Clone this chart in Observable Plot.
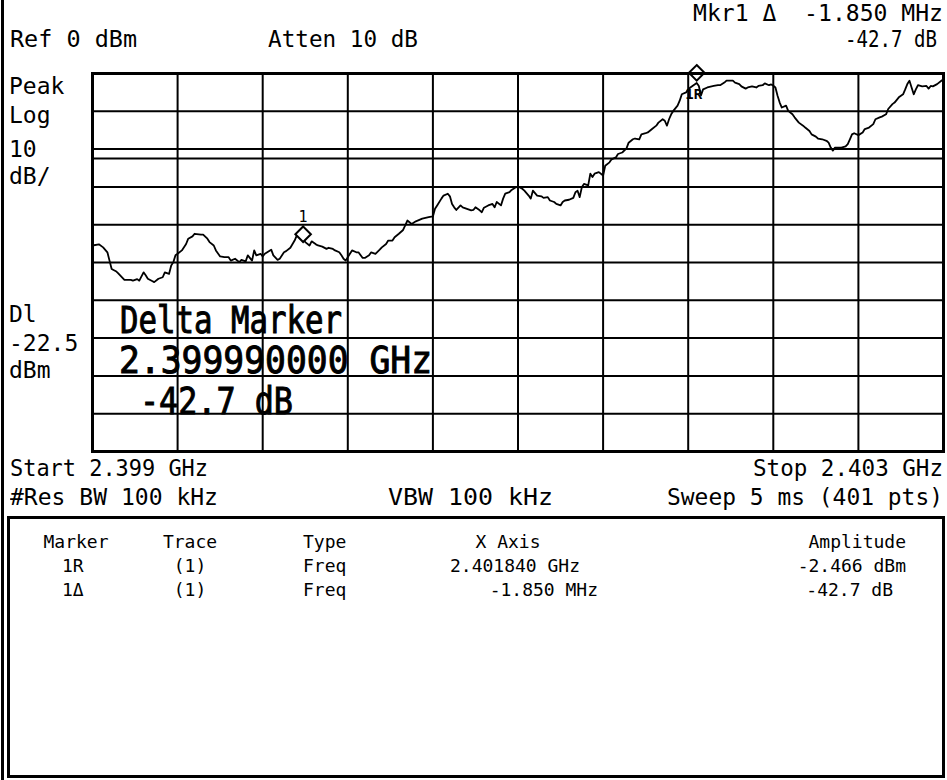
<!DOCTYPE html>
<html>
<head>
<meta charset="utf-8">
<script src="https://cdn.jsdelivr.net/npm/d3@7"></script>
<script src="https://cdn.jsdelivr.net/npm/@observablehq/plot@0.6"></script>
<style>
  html, body { margin: 0; padding: 0; background: #fff; }
  #page { position: relative; width: 947px; height: 780px; overflow: hidden; background: #fff;
          font-family: "DejaVu Sans Mono", monospace; color: #000; }
  #chart { position: absolute; left: 0; top: 0; }
  .t { position: absolute; white-space: pre; transform-origin: 0 0; }
</style>
</head>
<body>
<div id="page">
  <div id="chart"></div>
  <div style="position:absolute;left:1px;top:0;width:3px;height:780px;background:#000"></div>
  <div style="position:absolute;left:7px;top:516px;width:938px;height:262px;border:3px solid #000;box-sizing:border-box"></div>
</div>
<script>
// ---- Sweep settings ----
const startGHz = 2.399;
const stopGHz = 2.403;
const pointStepGHz = 0.00001;   // 401 points over 4 MHz
const refLevel = 0;             // dBm
const dbPerDiv = 10;
const displayLine = -22.5;      // dBm

// ---- Grid ticks ----
const xGridGHz = [2.399, 2.3994, 2.3998, 2.4002, 2.4006, 2.401, 2.4014, 2.4018, 2.4022, 2.4026, 2.403];
const yGridDbm = [0, -10, -20, -30, -40, -50, -60, -70, -80, -90, -100];

// ---- Trace (sweep point index, amplitude dBm) ----
const traceIndex = [
  0,3,5,7,8,9,11,12,14,15,18,19,21,22,24,25,26,28,29,31,33,34,36,37,38,39,40,42,44,45,
  47,48,51,52,54,55,57,58,60,62,64,65,67,69,70,72,73,75,76,77,79,80,81,84,85,87,88,90,91,93,
  95,96,97,99,100,102,103,105,106,108,110,111,113,114,116,117,118,119,121,122,124,125,127,128,130,131,133,135,136,138,
  139,141,142,144,146,147,148,150,152,155,158,160,161,162,164,165,167,168,169,170,171,173,174,176,178,179,180,182,183,184,
  186,188,189,190,192,193,194,196,197,199,200,202,203,205,206,207,209,211,212,214,215,217,218,220,221,222,224,226,227,228,
  229,230,231,233,234,235,236,238,240,241,243,244,246,247,249,251,252,254,255,257,258,260,261,263,265,266,268,269,270,271,
  272,273,275,276,277,279,280,281,282,284,285,286,287,289,291,292,294,295,297,298,301,302,304,305,307,308,310,312,313,315,
  316,318,319,320,321,322,323,324,326,327,329,330,332,334,335,337,338,340,341,343,345,346,347,348,349,351,352,354,355,356,
  357,358,360,362,363,365,367,368,370,371,373,374,376,377,379,381,382,383,384,385,386,387,388,390,392,393,394,395,397,399,
  400
];
const traceLevel = [
  -45.5,-45.2,-46.0,-47.3,-49.5,-51.7,-52.3,-52.8,-54.0,-54.6,-54.6,-54.8,-54.4,-54.8,-52.6,-53.4,-54.3,-54.9,-55.2,-54.3,-53.9,-52.6,-53.0,-50.8,-49.9,-48.1,-47.7,-46.8,-45.1,-43.7,
  -43.1,-42.4,-42.6,-42.6,-43.7,-44.6,-45.5,-46.8,-48.4,-48.6,-48.6,-49.5,-49.0,-49.9,-49.3,-49.7,-48.1,-49.5,-46.8,-48.1,-47.7,-48.4,-47.7,-46.6,-48.1,-49.3,-49.0,-47.3,-47.0,-46.1,
  -44.2,-42.9,-42.4,-43.7,-44.6,-45.5,-44.4,-45.2,-45.5,-45.8,-46.4,-46.1,-46.4,-46.8,-47.3,-48.1,-49.0,-49.5,-47.7,-46.8,-47.3,-47.3,-48.8,-48.8,-48.1,-47.3,-47.7,-46.6,-46.0,-45.1,
  -44.2,-44.2,-43.3,-42.4,-41.4,-40.2,-38.9,-39.8,-39.1,-38.4,-38.0,-37.8,-35.8,-34.9,-33.1,-32.3,-31.8,-32.5,-34.5,-35.4,-36.1,-34.9,-35.4,-35.8,-36.2,-36.1,-35.4,-36.2,-36.7,-35.5,
  -34.9,-34.5,-35.4,-34.0,-34.9,-33.1,-31.8,-31.4,-30.8,-30.1,-29.9,-30.5,-31.0,-32.3,-33.1,-31.0,-32.3,-32.5,-32.9,-32.7,-33.6,-34.0,-34.5,-34.9,-34.0,-33.6,-33.4,-32.9,-31.4,-31.0,
  -32.7,-30.1,-29.2,-29.6,-26.5,-27.4,-26.5,-26.1,-27.0,-24.4,-23.5,-22.7,-22.2,-21.3,-20.9,-19.8,-18.3,-17.4,-17.2,-17.4,-16.1,-15.8,-15.6,-14.7,-13.8,-13.0,-12.1,-12.5,-13.8,-12.1,
  -10.8,-9.9,-8.5,-7.2,-5.5,-5.0,-4.2,-3.7,-3.3,-2.5,-3.3,-5.8,-4.2,-3.7,-3.4,-3.3,-3.1,-3.1,-2.4,-1.9,-1.9,-2.4,-2.8,-3.4,-4.0,-3.7,-3.4,-3.7,-3.3,-3.1,
  -2.6,-3.1,-2.9,-3.2,-3.7,-5.9,-7.7,-9.0,-8.5,-9.9,-10.8,-11.6,-13.0,-13.8,-14.3,-15.2,-16.1,-16.7,-17.2,-17.4,-17.8,-18.3,-19.6,-20.4,-19.6,-19.6,-19.6,-19.3,-18.7,-17.4,
  -16.1,-15.8,-16.3,-15.6,-14.7,-14.3,-13.4,-12.1,-11.6,-11.4,-10.8,-9.4,-8.1,-7.7,-6.3,-5.5,-4.2,-2.8,-1.9,-3.7,-5.5,-4.2,-3.1,-3.4,-3.3,-4.0,-3.3,-3.4,-2.8,-1.9,
  -1.5
];

// ---- Markers ----
const markerNames = ["1R", "1"];
const markerFreqGHz = [2.401840, 2.399990];
const markerLevel = [-2.466, -2.466 - 42.7];

// ---- Text ----
const headerTexts = { mkr: "Mkr1 \u0394  -1.850 MHz", ref: "Ref 0 dBm", atten: "Atten 10 dB", delta: "-42.7 dB" };
const sideTexts = ["Peak", "Log", "10", "dB/", "Dl", "-22.5", "dBm"];
const footerTexts = { start: "Start 2.399 GHz", stop: "Stop 2.403 GHz", rbw: "#Res BW 100 kHz", vbw: "VBW 100 kHz", sweep: "Sweep 5 ms (401 pts)" };
const overlayTexts = ["Delta Marker", "2.399990000 GHz", "-42.7 dB"];
const tableHeader = ["Marker", "Trace", "Type", "X Axis", "Amplitude"];
const tableRow1 = ["1R", "(1)", "Freq", "2.401840 GHz", "-2.466 dBm"];
const tableRow2 = ["1\u0394", "(1)", "Freq", "-1.850 MHz", "-42.7 dB"];

// ---- Build tables ----
const trace = traceIndex.map((i, k) => ({ f: startGHz + i * pointStepGHz, dbm: traceLevel[k] }));
const markers = markerNames.map((n, k) => ({ name: n, f: markerFreqGHz[k], dbm: markerLevel[k] }));

const chart = Plot.plot({
  width: 947,
  height: 460,
  marginLeft: 92,
  marginRight: 4,
  marginTop: 73,
  marginBottom: 9,
  x: { domain: [startGHz, stopGHz], axis: null },
  y: { domain: [refLevel - 10 * dbPerDiv, refLevel], axis: null },
  style: { background: "transparent", overflow: "visible" },
  marks: [
    Plot.ruleX(xGridGHz, { stroke: "#000", strokeWidth: 2, strokeOpacity: 1 }),
    Plot.ruleY(yGridDbm, { stroke: "#000", strokeWidth: 2, strokeOpacity: 1 }),
    Plot.ruleY([displayLine], { stroke: "#000", strokeWidth: 2, strokeOpacity: 1 }),
    Plot.line(trace, { x: "f", y: "dbm", stroke: "#000", strokeWidth: 1.8 }),
    Plot.dot(markers, { x: "f", y: "dbm", symbol: "diamond2", r: 7, fill: "#fff", stroke: "#000", strokeWidth: 2, dy: -10 }),
    Plot.text(markers.filter(d => d.name === "1"), { x: "f", y: "dbm", text: "name", dy: -27, fontSize: 15, fill: "#000", fontFamily: "DejaVu Sans Mono" }),
    Plot.text(markers.filter(d => d.name === "1R"), { x: "f", y: "dbm", text: "name", dy: 12, dx: -3, fontSize: 14, fontWeight: "bold", fill: "#000", fontFamily: "DejaVu Sans Mono" }),
    Plot.frame({ stroke: "#000", strokeWidth: 3 })
  ]
});
document.getElementById("chart").appendChild(chart);

// ---- text helper ----
const page = document.getElementById("page");
function put(txt, x, base, fs, opts = {}) {
  const d = document.createElement("div");
  d.className = "t";
  d.textContent = txt;
  d.style.fontSize = fs + "px";
  d.style.lineHeight = fs + "px";
  if (opts.stroke) d.style.webkitTextStroke = opts.stroke + "px #000";
  d.style.top = (base - 0.846 * fs) + "px";
  page.appendChild(d);
  const w0 = d.getBoundingClientRect().width;
  const w = opts.width || w0;
  const s = w / w0;
  let left = x;
  if (opts.anchor === "end") left = x - w;
  else if (opts.anchor === "middle") left = x - w / 2;
  d.style.left = left + "px";
  if (opts.width) d.style.transform = `scaleX(${s})`;
  return d;
}

const F = 23;
// header
put(headerTexts.mkr, 943, 21, F, { anchor: "end", width: 250 });
put(headerTexts.ref, 10, 47, F, { width: 127 });
put(headerTexts.atten, 268, 47, F, { width: 150 });
put(headerTexts.delta, 937, 47, F, { anchor: "end", width: 92 });
// side
const sideBase = [94, 123, 157, 184, 322, 351, 378];
sideTexts.forEach((t, i) => put(t, 9, sideBase[i], F));
// footer
put(footerTexts.start, 10, 476, F, { width: 198 });
put(footerTexts.stop, 943, 476, F, { anchor: "end", width: 190 });
put(footerTexts.rbw, 10, 505, F, { width: 208 });
put(footerTexts.vbw, 388, 505, F, { width: 165 });
put(footerTexts.sweep, 943, 505, F, { anchor: "end", width: 276 });
// overlay big text
put(overlayTexts[0], 120, 333, 37, { width: 222, stroke: 1 });
put(overlayTexts[1], 119, 373, 37, { width: 313, stroke: 1 });
put(overlayTexts[2], 140, 414, 37, { width: 153, stroke: 1 });
// table
const T = 18;
put(tableHeader[0], 76, 548, T, { anchor: "middle" });
put(tableHeader[1], 190, 548, T, { anchor: "middle" });
put(tableHeader[2], 303, 548, T);
put(tableHeader[3], 508, 548, T, { anchor: "middle" });
put(tableHeader[4], 906, 548, T, { anchor: "end" });
[tableRow1, tableRow2].forEach((row, r) => {
  const b = 572 + r * 24;
  put(row[0], 62, b, T);
  put(row[1], 190, b, T, { anchor: "middle" });
  put(row[2], 303, b, T);
  if (r === 0) put(row[3], 450, b, T); else put(row[3], 598, b, T, { anchor: "end" });
  put(row[4], r === 0 ? 906 : 893, b, T, { anchor: "end" });
});
</script>
</body>
</html>
